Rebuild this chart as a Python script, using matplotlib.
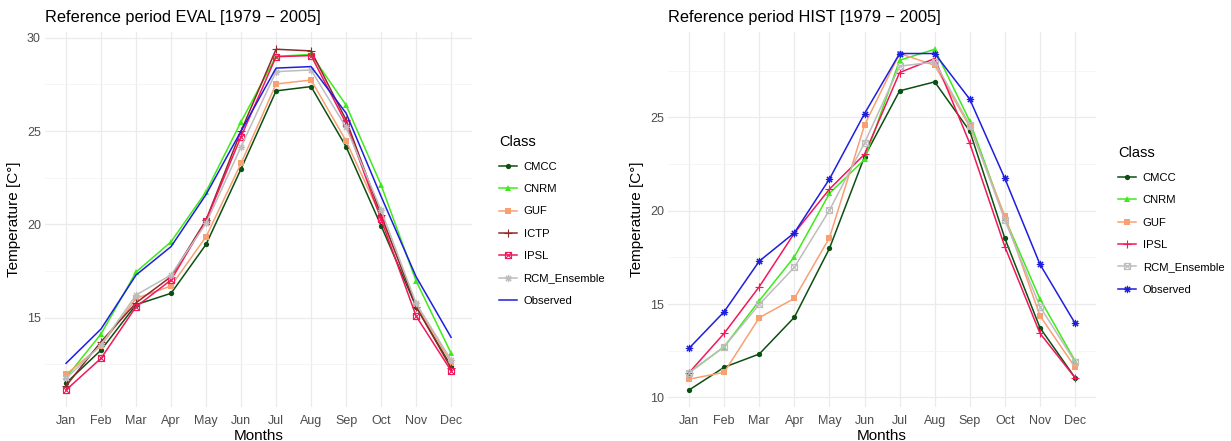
import matplotlib
matplotlib.use('Agg')
from matplotlib import pyplot as plt
from matplotlib.path import Path
from matplotlib.ticker import MultipleLocator

plt.rcParams['font.family'] = ['Liberation Sans', 'DejaVu Sans']

months = ['Jan', 'Feb', 'Mar', 'Apr', 'May', 'Jun',
          'Jul', 'Aug', 'Sep', 'Oct', 'Nov', 'Dec']

# Reference period EVAL
eval_classes = ['CMCC', 'CNRM', 'GUF', 'ICTP', 'IPSL', 'RCM_Ensemble', 'Observed']
eval_cmcc = [11.5, 13.27, 15.7, 16.31, 18.93, 22.97, 27.15, 27.38, 24.16, 19.93, 15.59, 12.4]
eval_cnrm = [11.8, 14.13, 17.45, 19.07, 21.75, 25.5, 29.0, 29.1, 26.39, 22.11, 16.97, 13.1]
eval_guf = [11.97, 13.5, 16.04, 16.7, 19.34, 23.27, 27.52, 27.73, 24.47, 20.4, 15.7, 12.6]
eval_ictp = [11.35, 13.72, 15.8, 17.2, 20.24, 25.0, 29.38, 29.29, 25.6, 20.5, 15.6, 12.3]
eval_ipsl = [11.13, 12.83, 15.59, 17.02, 20.2, 24.7, 28.98, 29.04, 25.41, 20.27, 15.09, 12.16]
eval_rcm = [11.75, 13.54, 16.22, 17.29, 20.06, 24.16, 28.18, 28.27, 25.2, 20.77, 15.77, 12.74]
eval_obs = [12.56, 14.4, 17.29, 18.81, 21.6, 25.0, 28.37, 28.45, 25.96, 21.5, 17.2, 13.95]

# Reference period HIST
hist_classes = ['CMCC', 'CNRM', 'GUF', 'IPSL', 'RCM_Ensemble', 'Observed']
hist_cmcc = [10.39, 11.61, 12.32, 14.29, 17.98, 22.9, 26.43, 26.91, 24.27, 18.52, 13.73, 11.05]
hist_cnrm = [11.32, 12.71, 15.18, 17.53, 20.93, 22.75, 28.07, 28.66, 24.8, 19.6, 15.27, 11.96]
hist_guf = [10.97, 11.34, 14.27, 15.3, 18.55, 24.59, 28.43, 27.8, 24.5, 19.71, 14.37, 11.61]
hist_ipsl = [11.32, 13.43, 15.93, 18.8, 21.16, 23.03, 27.41, 28.16, 23.61, 18.07, 13.43, 11.05]
hist_rcm = [11.32, 12.71, 14.98, 16.97, 20.03, 23.64, 27.75, 27.98, 24.6, 19.5, 14.86, 11.9]
hist_obs = [12.63, 14.59, 17.3, 18.82, 21.7, 25.21, 28.43, 28.43, 25.98, 21.73, 17.13, 13.97]

colors = {'CMCC': '#0B4F12', 'CNRM': '#3FEA1A', 'GUF': '#F9A073',
          'ICTP': '#8E2A2A', 'IPSL': '#F2185A', 'RCM_Ensemble': '#BDBDBD',
          'Observed': '#1E1EE0'}

# ggplot's shape 7 (square with a cross) and shape 8 (asterisk)
sq_cross = Path([(-1, -1), (1, -1), (1, 1), (-1, 1), (-1, -1),
                 (-1, -1), (1, 1), (-1, 1), (1, -1)],
                [Path.MOVETO, Path.LINETO, Path.LINETO, Path.LINETO, Path.CLOSEPOLY,
                 Path.MOVETO, Path.LINETO, Path.MOVETO, Path.LINETO])
shapes = ['o', '^', 's', '+', sq_cross, (8, 2, 0), None]


def panel(ax, classes, series, title, legend_xy):
    x = range(len(months))
    for i, (name, vals) in enumerate(zip(classes, series)):
        m = shapes[i]
        kw = dict(color=colors[name], lw=1.1, label=name)
        if m is None:
            pass
        elif m in ('o', '^', 's'):
            kw.update(marker=m, ms=3.8, mew=0)
        else:
            kw.update(marker=m, ms=4.4 if m is sq_cross else 5.2, mew=0.8,
                      mfc='none')
        ax.plot(x, vals, **kw)

    ax.set_xlim(-0.6, len(months) - 0.4)
    lo = min(min(v) for v in series)
    hi = max(max(v) for v in series)
    pad = (hi - lo) * 0.05
    ax.set_ylim(lo - pad, hi + pad)
    ax.set_xticks(list(x))
    ax.set_xticklabels(months)
    ax.yaxis.set_major_locator(MultipleLocator(5))
    ax.yaxis.set_minor_locator(MultipleLocator(2.5))
    ax.grid(True, which='major', color='#EBEBEB', lw=0.9)
    ax.grid(True, which='minor', axis='y', color='#F2F2F2', lw=0.5)
    ax.set_axisbelow(True)
    for s in ax.spines.values():
        s.set_visible(False)
    ax.tick_params(which='both', length=0, labelsize=9, labelcolor='#4D4D4D')
    ax.tick_params(axis='x', pad=6)
    ax.tick_params(axis='y', pad=3)
    ax.set_xlabel('Months', fontsize=11, labelpad=1)
    ax.set_ylabel('Temperature [C°]', fontsize=11, labelpad=4)
    ax.set_title(title, loc='left', fontsize=11.8, x=0.0, pad=7)
    ax.legend(loc='upper left', bbox_to_anchor=legend_xy,
              bbox_transform=fig.transFigure, frameon=False,
              title='Class', fontsize=8.1, title_fontsize=10.5,
              handlelength=1.6, handletextpad=0.6, labelspacing=1.1,
              alignment='left')


fig = plt.figure(figsize=(12.31, 4.41), dpi=100)
ax1 = fig.add_axes([0.0366, 0.077, 0.3469, 0.85])
ax2 = fig.add_axes([0.5427, 0.077, 0.3477, 0.85])

panel(ax1, eval_classes,
      [eval_cmcc, eval_cnrm, eval_guf, eval_ictp, eval_ipsl, eval_rcm, eval_obs],
      'Reference period EVAL [1979 \u2212 2005]', (0.397, 0.716))
panel(ax2, hist_classes,
      [hist_cmcc, hist_cnrm, hist_guf, hist_ipsl, hist_rcm, hist_obs],
      'Reference period HIST [1979 \u2212 2005]', (0.9, 0.691))

fig.savefig('out.png', dpi=100)
